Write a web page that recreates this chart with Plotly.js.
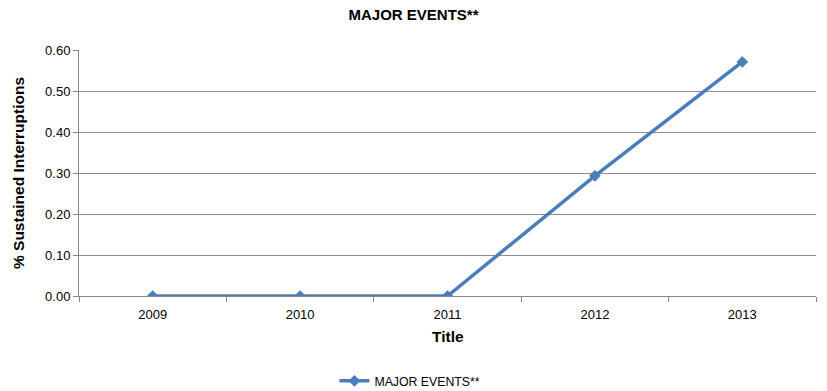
<!DOCTYPE html>
<html><head><meta charset="utf-8">
<script src="https://cdn.plot.ly/plotly-3.0.1.min.js"></script>
<style>body{margin:0;padding:0;background:#fff}#chart{width:827px;height:391px}</style>
</head><body><div id="chart"></div>
<script>
const years = ['2009','2010','2011','2012','2013'];
const majorEvents = [0, 0, 0, 0.293, 0.571];
const yTicks = [0, 0.1, 0.2, 0.3, 0.4, 0.5, 0.6];
const yTickLabels = ['0.00','0.10','0.20','0.30','0.40','0.50','0.60'];
const xTitle = 'Title';

const trace = {
  x: years, y: majorEvents, type: 'scatter', mode: 'lines+markers',
  name: 'MAJOR EVENTS**',
  line: {color: '#4A7EBB', width: 3.5},
  marker: {symbol: 'diamond', size: 9, color: '#4A7EBB'}
};
const layout = {
  width: 827, height: 391,
  margin: {l: 79, r: 11, t: 50, b: 95, autoexpand: false},
  paper_bgcolor: '#fff', plot_bgcolor: '#fff',
  font: {family: 'Liberation Sans, Arial, sans-serif', size: 13, color: '#000'},
  title: {text: '<b>MAJOR EVENTS**</b>', x: 0.5, xanchor: 'center', y: 0.975, yanchor: 'top', font: {size: 15}},
  xaxis: {type: 'category', showgrid: false, zeroline: false, showline: true, linecolor: '#868686', linewidth: 1,
    ticks: 'outside', tickson: 'boundaries', ticklen: 5, tickcolor: '#868686', ticklabelstandoff: 6,
    range: [-0.5, 4.5], automargin: false},
  yaxis: {range: [0, 0.6], tickvals: yTicks, ticktext: yTickLabels, showgrid: true, gridcolor: '#8c8c8c', gridwidth: 1,
    zeroline: false, showline: true, linecolor: '#868686', ticks: 'outside', ticklen: 5, tickcolor: '#868686',
    title: {text: '<b>% Sustained Interruptions</b>', font: {size: 15.5}, standoff: 16}, automargin: false},
  annotations: [{text: '<b>' + xTitle + '</b>', xref: 'paper', yref: 'paper', x: 0.5, y: -0.165,
    xanchor: 'center', yanchor: 'middle', showarrow: false, font: {size: 15.5}}],
  showlegend: true,
  legend: {orientation: 'h', x: 0.449, xanchor: 'center', yref: 'container', y: 0.026, yanchor: 'middle', font: {size: 12.3}}
};
Plotly.newPlot('chart', [trace], layout, {displayModeBar: false});
</script></body></html>
